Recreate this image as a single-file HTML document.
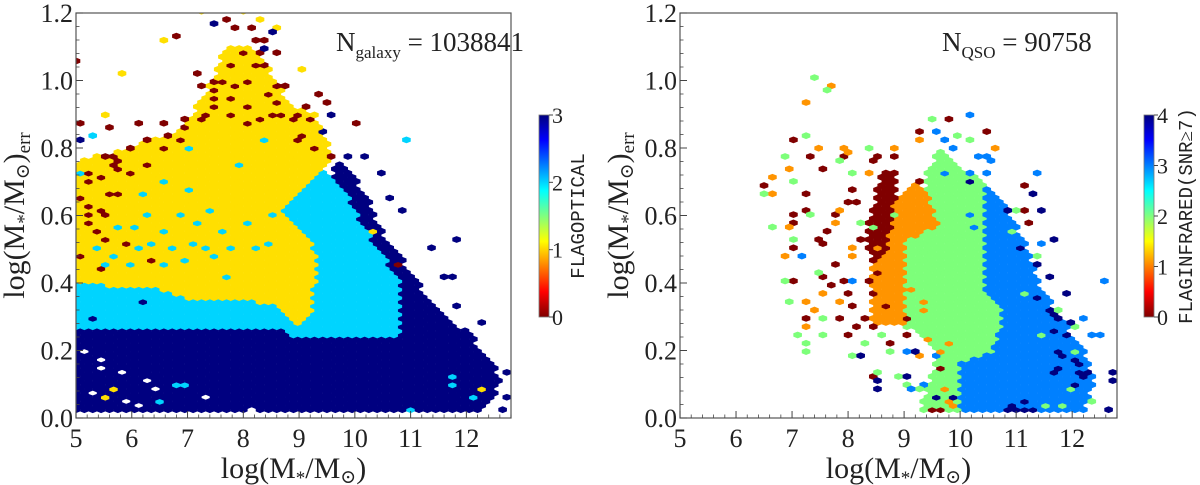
<!DOCTYPE html>
<html><head><meta charset="utf-8"><style>
body{margin:0;background:#fff;}
svg{display:block;font-family:"Liberation Serif","DejaVu Serif",serif;}
</style></head><body>
<svg id="fig" width="1200" height="485" viewBox="0 0 1200 485" xmlns="http://www.w3.org/2000/svg">
<defs>
<linearGradient id="jet" x1="0" y1="1" x2="0" y2="0">
<stop offset="0" stop-color="#7f0000"/><stop offset="0.125" stop-color="#ff0000"/><stop offset="0.375" stop-color="#ffff00"/><stop offset="0.625" stop-color="#00ffff"/><stop offset="0.875" stop-color="#0000ff"/><stop offset="1" stop-color="#00007f"/>
</linearGradient>
</defs>
</svg>
<script>
// ---------- data ----------
const xTicks=[5,6,7,8,9,10,11,12];
const yTicks=[0.0,0.2,0.4,0.6,0.8,1.0,1.2];
const yTickLabels=["0.0","0.2","0.4","0.6","0.8","1.0","1.2"];
const leftColors=["#800000","#ffdf00","#00d4ff","#000080"];
const rightColors=["#800000","#ff9400","#7dff7a","#0080ff","#000080"];
const leftCbTicks=[0,1,2,3];
const rightCbTicks=[0,1,2,3,4];
// regions: [flag, polygon of (mass, err)]
const leftRegions=[
[3,[[5.0,0.02],[12.2,0.02],[12.5,0.06],[12.6,0.12],[12.3,0.2],[12.0,0.26],[11.6,0.3],[11.3,0.36],[11.0,0.44],[10.7,0.5],[10.4,0.58],[10.2,0.66],[9.9,0.74],[9.6,0.76],[9.6,0.3],[5.0,0.28]]],
[2,[[5.0,0.27],[6.9,0.27],[7.0,0.26],[8.8,0.26],[8.9,0.24],[10.8,0.24],[10.8,0.42],[10.4,0.5],[10.0,0.62],[9.8,0.68],[9.5,0.73],[9.2,0.74],[8.6,0.72],[7.0,0.62],[5.0,0.45]]],
[1,[[5.0,0.4],[6.6,0.38],[7.0,0.35],[8.0,0.35],[8.6,0.33],[8.95,0.28],[9.25,0.3],[9.3,0.5],[9.0,0.55],[8.7,0.62],[9.3,0.72],[9.6,0.78],[9.3,0.9],[8.8,0.93],[8.6,1.0],[8.2,1.1],[7.7,1.1],[7.3,0.95],[6.8,0.85],[6.0,0.8],[5.0,0.76]]]
];
const rightRegions=[
[2,[[9.3,0.02],[10.3,0.02],[10.0,0.16],[10.6,0.2],[10.8,0.3],[10.4,0.4],[10.4,0.7],[10.0,0.75],[9.6,0.8],[9.4,0.72],[9.4,0.6],[9.0,0.52],[8.95,0.28],[9.6,0.2]]],
[3,[[10.0,0.02],[12.2,0.02],[12.4,0.1],[12.2,0.2],[11.8,0.3],[11.4,0.4],[11.2,0.5],[10.9,0.6],[10.6,0.68],[10.4,0.7],[10.4,0.4],[10.8,0.3],[10.6,0.2],[10.0,0.16]]],
[1,[[8.4,0.28],[9.0,0.28],[9.0,0.52],[9.6,0.57],[9.4,0.68],[9.1,0.7],[8.7,0.6],[8.4,0.5]]],
[0,[[8.5,0.45],[8.7,0.5],[8.8,0.6],[8.9,0.74],[8.6,0.73],[8.4,0.6],[8.3,0.5]]]
];
// scattered bins: mass, err, flag (-1 = empty)
const leftMass=[5.05,6.75,5.05,5.6,6.1,6.6,5.7,5.75,5.8,5.65,5.9,5.3,5.4,5.2,5.3,5.5,5.6,5.7,5.05,5.4,5.5,5.9,5.6,6.3,6.5,6.8,7.0,7.3,7.2,7.4,7.6,7.8,8.0,8.2,8.3,8.4,7.9,7.7,8.6,8.8,9.0,9.2,9.4,9.6,9.8,8.5,8.1,7.5,8.9,10.0,9.3,6.4,10.8,
5.8,5.45,6.6,7.2,8.0,8.3,8.6,9.0,10.5,10.3,12.3,5.5,5.7,
10.9,11.8,11.8,12.2,11.0,7.0,6.8,6.5,5.1,5.3,6.6,6.3,6.8,7.2,7.6,8.0,6.0,6.5,5.5,7.8,6.2,5.0,8.5,7.9,8.3,7.0,5.3,6.9,
9.6,9.95,10.1,10.4,10.6,10.9,11.8,11.3,11.6,11.8,11.8,12.3,12.5,12.75,12.75,12.7,5.3,6.2,5.05,8.5,7.4,9.4,8.3,
5.2,5.5,5.4,6.2,5.8,5.9,6.4,6.1,7.3,8.1,5.3,
7.2,7.4,7.5,7.7,7.9,8.1,8.2,8.4,8.6,8.7,8.9,9.1,9.3,7.8,8.0,8.3,7.3,6.9,6.6,6.2,5.9,5.5,5.2,5.1,5.3,5.6,5.4,8.35,8.1,8.55,9.5,9.2,
5.4,5.7,6.1,6.3,6.7,7.1,7.3,7.5,7.7,8.2,8.4,6.0,5.8,7.4,7.0,6.6];
const leftErr=[1.06,1.13,0.87,0.86,0.87,0.87,0.78,0.76,0.74,0.75,0.73,0.73,0.71,0.6,0.58,0.62,0.67,0.66,0.48,0.44,0.53,0.52,0.53,0.75,0.8,0.82,0.86,0.88,0.98,0.95,1.0,1.05,1.08,1.12,1.08,1.04,1.16,1.18,0.98,0.98,0.9,0.88,0.85,0.78,0.78,0.9,0.92,0.92,0.82,0.87,0.96,0.47,0.45,
1.02,0.9,1.12,1.2,1.2,1.18,1.16,1.03,0.72,0.55,0.08,0.06,0.09,
0.82,0.1,0.12,0.06,0.03,0.1,0.1,0.05,0.32,0.3,0.55,0.6,0.6,0.58,0.55,0.58,0.45,0.45,0.45,0.5,0.66,0.73,0.6,0.75,0.82,0.8,0.84,0.47,
0.9,0.78,0.77,0.72,0.65,0.62,0.53,0.5,0.42,0.42,0.33,0.28,0.15,0.13,0.06,0.03,0.3,0.35,0.82,1.14,1.17,0.85,1.1,
0.2,0.15,0.17,0.11,0.14,0.05,0.08,0.04,0.06,0.03,0.07,
1.02,1.0,0.97,0.95,0.98,1.0,1.04,0.96,0.93,0.9,0.88,0.84,0.8,0.9,0.87,0.88,0.9,0.88,0.84,0.82,0.8,0.78,0.7,0.65,0.63,0.6,0.55,1.12,1.16,1.08,0.94,0.92,
0.5,0.48,0.5,0.52,0.5,0.52,0.5,0.48,0.42,0.5,0.52,0.56,0.57,0.62,0.68,0.7];
const leftFlag=[].concat(Array(53).fill(0),Array(13).fill(1),Array(28).fill(2),Array(23).fill(3),Array(11).fill(-1),Array(32).fill(0),Array(16).fill(2));
const rightMass=[6.5,7.05,7.4,7.3,7.5,7.3,7.2,7.0,7.1,7.7,7.6,7.4,7.6,7.1,6.9,7.0,7.5,7.7,7.9,8.0,7.8,7.3,7.2,8.1,8.3,7.9,8.0,8.2,8.5,7.9,8.4,8.6,8.8,8.1,8.2,8.0,8.3,8.2,8.4,8.6,8.3,8.5,8.7,9.3,9.8,10.4,9.5,9.6,8.4,9.3,11.2,11.1,11.2,9.6,9.0,9.1,8.8,
7.3,7.75,6.6,6.7,6.9,6.9,6.85,7.5,7.9,8.0,8.8,9.3,10.6,7.8,7.7,8.0,8.3,7.2,7.4,7.6,7.9,8.5,9.2,9.3,9.4,9.6,9.8,9.4,9.3,9.7,9.8,9.9,9.4,7.3,8.6,8.1,
7.4,7.65,7.3,6.45,6.6,6.85,6.85,7.0,7.1,7.0,7.3,7.4,6.9,7.1,7.2,7.3,7.5,7.6,8.0,8.5,8.6,8.3,8.7,8.9,9.0,9.3,8.6,8.4,7.9,8.1,8.5,9.5,9.9,10.2,10.4,10.2,11.2,11.7,12.0,12.1,12.3,12.0,11.8,12.3,11.5,11.5,11.0,10.9,11.4,8.8,8.2,
7.15,8.05,9.6,9.7,10.1,9.9,10.3,10.5,10.6,10.1,9.7,11.3,11.5,12.6,12.2,12.4,12.5,9.0,9.5,9.1,9.3,10.4,10.8,10.1,10.3,
8.2,8.5,8.5,9.0,9.2,9.5,9.8,10.8,11.1,11.3,11.4,11.6,11.4,11.6,11.4,11.9,11.6,11.7,11.8,11.9,11.7,11.9,11.6,11.7,11.8,11.7,12.1,12.2,12.1,12.2,12.3,12.75,12.75,12.7,12.6,10.9,11.0,11.1,11.2,11.3,11.1,10.8,12.0,10.2];
const rightErr=[0.69,0.82,0.8,0.77,0.74,0.66,0.62,0.6,0.58,0.6,0.55,0.53,0.52,0.5,0.48,0.4,0.42,0.39,0.41,0.37,0.45,0.35,0.3,0.33,0.3,0.29,0.25,0.27,0.27,0.78,0.76,0.78,0.78,0.68,0.64,0.64,0.58,0.53,0.47,0.43,0.4,0.37,0.33,0.85,0.88,0.85,0.02,0.02,0.12,0.7,0.69,0.61,0.58,0.15,0.3,0.25,0.22,
0.94,0.99,0.71,0.66,0.74,0.57,0.48,0.8,0.8,0.79,0.8,0.82,0.8,0.62,0.58,0.5,0.72,0.34,0.32,0.37,0.34,0.4,0.38,0.35,0.32,0.2,0.22,0.23,0.18,0.08,0.05,0.04,0.1,0.27,0.5,0.48,
1.01,0.97,0.84,0.67,0.57,0.78,0.4,0.7,0.7,0.53,0.6,0.43,0.34,0.25,0.22,0.2,0.25,0.29,0.18,0.14,0.14,0.22,0.2,0.12,0.1,0.08,0.25,0.8,0.76,0.72,0.56,0.88,0.84,0.83,0.78,0.62,0.37,0.32,0.27,0.2,0.14,0.08,0.04,0.05,0.04,0.25,0.61,0.55,0.48,0.6,0.58,
0.48,0.41,0.85,0.82,0.9,0.8,0.77,0.77,0.76,0.73,0.72,0.72,0.52,0.4,0.3,0.25,0.25,0.2,0.18,0.09,0.1,0.72,0.62,0.6,0.57,
0.19,0.11,0.08,0.12,0.2,0.06,0.06,0.61,0.5,0.67,0.62,0.53,0.45,0.42,0.36,0.37,0.32,0.31,0.3,0.28,0.26,0.24,0.13,0.2,0.18,0.15,0.17,0.16,0.13,0.12,0.14,0.13,0.11,0.14,0.03,0.04,0.03,0.03,0.02,0.03,0.05,0.02,0.1,0.7];
const rightFlag=[].concat(Array(57).fill(0),Array(36).fill(1),Array(51).fill(2),Array(25).fill(3),Array(44).fill(4));

// ---------- drawing ----------
const NS="http://www.w3.org/2000/svg";
const svg=document.getElementById('fig');
function mk(tag,attrs,parent){const e=document.createElementNS(NS,tag);for(const k in attrs)e.setAttribute(k,attrs[k]);(parent||svg).appendChild(e);return e;}
const DX=0.15, DY=0.0123, XMIN=5, XMAX=12.8, YMIN=0, YMAX=1.2;
function inPoly(x,y,p){let c=false;for(let i=0,j=p.length-1;i<p.length;j=i++){const xi=p[i][0],yi=p[i][1],xj=p[j][0],yj=p[j][1];if(((yi>y)!=(yj>y))&&(x<(xj-xi)*(y-yi)/(yj-yi)+xi))c=!c;}return c;}
function cellOf(m,e){const r=Math.round(e/DY);const off=(r%2)?DX/2:0;const c=Math.round((m-XMIN-off)/DX);return [r,c];}
function cellCenter(r,c){return [XMIN+c*DX+((r%2)?DX/2:0), r*DY];}

function panel(id,x0,x1,y0,y1,regions,mass,err,flag,colors){
  const g=mk('g',{});
  
  
  const sx=v=>x0+(v-XMIN)/(XMAX-XMIN)*(x1-x0);
  const sy=v=>y1-(v-YMIN)/(YMAX-YMIN)*(y1-y0);
  const cells=new Map();
  const maxR=Math.floor(YMAX/DY), maxC=Math.ceil((XMAX-XMIN)/DX)+1;
  for(const [f,poly] of regions){
    for(let r=1;r<=maxR;r++)for(let c=0;c<=maxC;c++){const [m,e]=cellCenter(r,c);if(inPoly(m,e,poly))cells.set(r+','+c,f);}
  }
  for(let i=0;i<mass.length;i++){const [r,c]=cellOf(mass[i],err[i]);const k=r+','+c;if(flag[i]<0)cells.delete(k);else cells.set(k,flag[i]);}
  const clip=mk('clipPath',{id:id+'-clip'},g);
  mk('rect',{x:x0,y:y0,width:x1-x0,height:y1-y0},clip);
  const hg=mk('g',{'clip-path':'url(#'+id+'-clip)'},g);
  
  
  const W=4.3,H=3.4;
  for(const [k,f] of cells){
    const [r,c]=k.split(',').map(Number);const [m,e]=cellCenter(r,c);
    const cx=sx(m),cy=sy(e);
    const pts=[[cx,cy-H],[cx+W,cy-H/2],[cx+W,cy+H/2],[cx,cy+H],[cx-W,cy+H/2],[cx-W,cy-H/2]].map(p=>p[0].toFixed(2)+','+p[1].toFixed(2)).join(' ');
    const h=mk('polygon',{points:pts,fill:colors[f]},hg);
    
    
  }
  const fr=mk('rect',{x:x0,y:y0,width:x1-x0,height:y1-y0,fill:'none',stroke:'#555','stroke-width':1.2},g);
  
  
  for(let i=0;i<xTicks.length;i++){
    const X=sx(xTicks[i]);
    mk('line',{x1:X,x2:X,y1:y1,y2:y1-7,stroke:'#444','stroke-width':1},g);
    const t=mk('text',{x:X,y:y1+29,'font-size':26,'text-anchor':'middle',fill:'#222'},g);
    t.textContent=xTicks[i];
    
    
  }
  for(let v=5.2;v<XMAX;v+=0.2){if(Math.abs(v-Math.round(v))<0.01)continue;const X=sx(v);mk('line',{x1:X,x2:X,y1:y1,y2:y1-3.5,stroke:'#444','stroke-width':0.8},g);}
  for(let i=0;i<yTicks.length;i++){
    const Y=sy(yTicks[i]);
    mk('line',{x1:x0,x2:x0+7,y1:Y,y2:Y,stroke:'#444','stroke-width':1},g);
    const t=mk('text',{x:x0-3,y:Y+9,'font-size':26,'text-anchor':'end',fill:'#222'},g);
    t.textContent=yTickLabels[i];
    
    
  }
  for(let v=0.04;v<1.2;v+=0.04){if(Math.abs(v/0.2-Math.round(v/0.2))<0.01)continue;const Y=sy(v);mk('line',{x1:x0,x2:x0+3.5,y1:Y,y2:Y,stroke:'#444','stroke-width':0.8},g);}
  const xl=mk('text',{x:(x0+x1)/2,y:y1+60,'font-size':30,'text-anchor':'middle',fill:'#222'},g);
  xl.innerHTML='log(M<tspan font-size="19" dy="6">*</tspan><tspan dy="-6">/M</tspan><tspan font-size="19" dy="5">⊙</tspan><tspan dy="-5">)</tspan>';
  
  
  const yl=mk('text',{x:0,y:0,'font-size':30,'text-anchor':'middle',fill:'#222',transform:`translate(${x0-52},${(y0+y1)/2}) rotate(-90)`},g);
  yl.innerHTML='log(M<tspan font-size="19" dy="6">*</tspan><tspan dy="-6">/M</tspan><tspan font-size="19" dy="5">⊙</tspan><tspan dy="-5">)</tspan><tspan font-size="19" dy="6">err</tspan>';
  
  
  return {sx,sy};
}
panel('left-panel',76,511,13,418,leftRegions,leftMass,leftErr,leftFlag,leftColors);
panel('right-panel',680,1117,13,418,rightRegions,rightMass,rightErr,rightFlag,rightColors);

function colorbar(id,x,y0,y1,ticks,label,lx){
  const g=mk('g',{});
  
  
  mk('rect',{x:x,y:y0,width:10,height:y1-y0,fill:'url(#jet)',stroke:'#777','stroke-width':0.8},g);
  const n=ticks[ticks.length-1];
  for(const t of ticks){const Y=y1-(t/n)*(y1-y0);mk('line',{x1:x+10,x2:x+14,y1:Y,y2:Y,stroke:'#444'},g);
    const tx=mk('text',{x:x+13,y:Y+8,'font-size':22,fill:'#222'},g);tx.textContent=t;
    
    }
  const lt=mk('text',{x:0,y:0,'font-size':19,'text-anchor':'middle',fill:'#222','font-family':'"Liberation Mono",monospace',transform:`translate(${lx},${(y0+y1)/2}) rotate(-90)`},g);
  lt.innerHTML=label;
  
  
}
colorbar('left-colorbar',539,115,317,leftCbTicks,'FLAGOPTICAL',584);
colorbar('right-colorbar',1144,115,317,rightCbTicks,'FLAGINFRARED(SNR<tspan font-family="Liberation Serif">≥</tspan>7)',1192);

const a1=mk('text',{x:336,y:51,'font-size':27,fill:'#222'});
a1.innerHTML='N<tspan font-size="17" dy="7">galaxy</tspan><tspan dy="-7"> = 1038841</tspan>';


const a2=mk('text',{x:942,y:51,'font-size':27,fill:'#222'});
a2.innerHTML='N<tspan font-size="17" dy="7">QSO</tspan><tspan dy="-7"> = 90758</tspan>';


</script>
</body></html>
